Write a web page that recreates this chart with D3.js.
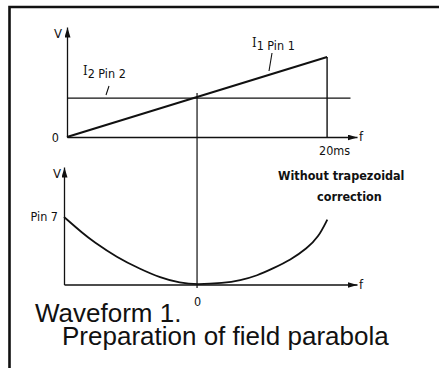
<!DOCTYPE html>
<html>
<head>
<meta charset="utf-8">
<script src="https://cdn.jsdelivr.net/npm/d3@7"></script>
<style>
  body { margin: 0; background: #fff; }
  .tech { font-family: "DejaVu Sans Condensed", "DejaVu Sans", sans-serif; font-stretch: condensed; fill: #111; }
  .title { font-family: "Liberation Sans", Arial, sans-serif; font-size: 26px; fill: #111; }
</style>
</head>
<body>
<script>
// values (time in ms, voltage in arbitrary units)
var rampT = [0, 20],
    rampV = [0, 2];
var i2T = [0, 21.8],
    i2V = [0.97, 0.97];
var parT = [-10, -8.55, -7.82, -6.02, -4.29, -2.78, -1.28, 0, 1.95, 3.23, 4.51, 5.71, 6.99, 8.27, 9.10, 9.77],
    parV = [1.0, 0.75, 0.64, 0.40, 0.23, 0.10, 0.02, 0, 0.02, 0.06, 0.13, 0.24, 0.36, 0.54, 0.70, 0.96];
var topTicks = [20], topTickLabels = ["20ms"];
var botTicks = [0], botTickLabels = ["0"];

var W = 439, H = 368;

// scales, the domains run to the arrow tips
var xTop = d3.scaleLinear().domain([0, 22.3]).range([67, 357]);
var yTop = d3.scaleLinear().domain([0, 2.75]).range([137, 27]);
var xBot = d3.scaleLinear().domain([-10, 12]).range([64, 357]);
var yBot = d3.scaleLinear().domain([0, 1.74]).range([284.5, 167]);

var svg = d3.select("body").append("svg")
    .attr("width", W)
    .attr("height", H);

// arrow head
svg.append("defs").append("marker")
    .attr("id", "arrow")
    .attr("viewBox", "0 -3 10 6")
    .attr("refX", 10).attr("refY", 0)
    .attr("markerWidth", 10).attr("markerHeight", 6)
    .attr("markerUnits", "userSpaceOnUse")
    .attr("orient", "auto")
    .append("path").attr("d", "M0,-3L10,0L0,3Z").attr("fill", "#111");

// frame (top and left edge only, the rest is cut off)
svg.append("path")
    .attr("d", "M9.5," + H + "V7H" + W)
    .attr("fill", "none").attr("stroke", "#111").attr("stroke-width", 2.6);

function styleAxis(g) {
    g.select(".domain").attr("stroke", "#111").attr("stroke-width", 1.3).attr("marker-end", "url(#arrow)");
    g.selectAll(".tick line").remove();
    g.selectAll("text").attr("class", "tech").style("font-size", "12.5px").attr("fill", "#111");
}

// top chart axes
svg.append("g")
    .attr("transform", "translate(0," + yTop(0) + ")")
    .call(d3.axisBottom(xTop).tickValues(topTicks).tickFormat(function (d, i) { return topTickLabels[i]; })
        .tickSizeOuter(0).tickSize(0).tickPadding(9))
    .call(styleAxis)
    .selectAll("text").attr("dx", 7);
svg.append("g")
    .attr("transform", "translate(" + xTop(0) + ",0)")
    .call(d3.axisLeft(yTop).tickValues([0]).tickFormat(d3.format("d"))
        .tickSizeOuter(0).tickSize(0).tickPadding(8))
    .call(styleAxis);

// bottom chart axes
svg.append("g")
    .attr("transform", "translate(0," + yBot(0) + ")")
    .call(d3.axisBottom(xBot).tickValues(botTicks).tickFormat(function (d, i) { return botTickLabels[i]; })
        .tickSizeOuter(0).tickSize(0).tickPadding(13))
    .call(styleAxis);
svg.append("g")
    .attr("transform", "translate(" + xBot(-10) + ",0)")
    .call(d3.axisLeft(yBot).tickValues([1]).tickFormat(function () { return "Pin 7"; })
        .tickSizeOuter(0).tickSize(0).tickPadding(6))
    .call(styleAxis);

// axis letters
svg.append("text").attr("class", "tech").style("font-size", "13px")
    .attr("x", xTop(0) - 5).attr("y", yTop(2.75) + 11).attr("text-anchor", "end").text("V");
svg.append("text").attr("class", "tech").style("font-size", "13px")
    .attr("x", xBot(-10) - 3).attr("y", yBot(1.74) + 11).attr("text-anchor", "end").text("V");
svg.append("text").attr("class", "tech").style("font-size", "13px")
    .attr("x", xTop(22.3) + 2).attr("y", yTop(0) + 4).text("f");
svg.append("text").attr("class", "tech").style("font-size", "13px")
    .attr("x", xBot(12) + 2).attr("y", yBot(0) + 4).text("f");

// dividing line at 10 ms, through both charts
svg.append("line")
    .attr("x1", xTop(10)).attr("x2", xTop(10))
    .attr("y1", yTop(1.1)).attr("y2", yBot(-0.05))
    .attr("stroke", "#111").attr("stroke-width", 1.2);

// I2 level
var line = d3.line();
svg.append("path")
    .datum(i2T.map(function (t, i) { return [xTop(t), yTop(i2V[i])]; }))
    .attr("d", line)
    .attr("fill", "none").attr("stroke", "#111").attr("stroke-width", 1.2);

// I1 ramp and its fly-back
svg.append("path")
    .datum(rampT.map(function (t, i) { return [xTop(t), yTop(rampV[i])]; }))
    .attr("d", line)
    .attr("fill", "none").attr("stroke", "#111").attr("stroke-width", 2);
svg.append("line")
    .attr("x1", xTop(20)).attr("x2", xTop(20))
    .attr("y1", yTop(2)).attr("y2", yTop(0))
    .attr("stroke", "#111").attr("stroke-width", 1.4);

// parabola
var curve = d3.line()
    .x(function (d) { return xBot(d[0]); })
    .y(function (d) { return yBot(d[1]); })
    .curve(d3.curveBasis);
svg.append("path")
    .datum(parT.map(function (t, i) { return [t, parV[i]]; }))
    .attr("d", curve)
    .attr("fill", "none").attr("stroke", "#111").attr("stroke-width", 1.8);

// labels
var l1 = svg.append("text").attr("class", "tech").style("font-size", "12.5px").attr("x", 252).attr("y", 50);
l1.append("tspan").style("font-family", "DejaVu Serif").style("font-size", "13px").attr("dy", -3).text("I");
l1.append("tspan").attr("dy", 3).text("1 Pin 1");
svg.append("line").attr("x1", 272).attr("y1", 53).attr("x2", 269).attr("y2", 71)
    .attr("stroke", "#111").attr("stroke-width", 1.1);

var l2 = svg.append("text").attr("class", "tech").style("font-size", "12.5px").attr("x", 83).attr("y", 78);
l2.append("tspan").style("font-family", "DejaVu Serif").style("font-size", "13px").attr("dy", -3).text("I");
l2.append("tspan").attr("dy", 3).text("2 Pin 2");
svg.append("line").attr("x1", 109).attr("y1", 86).attr("x2", 106).attr("y2", 95)
    .attr("stroke", "#111").attr("stroke-width", 1.1);

svg.append("text").attr("class", "tech").style("font-size", "12.5px").style("font-weight", "bold")
    .attr("x", 278).attr("y", 180).text("Without trapezoidal");
svg.append("text").attr("class", "tech").style("font-size", "12.5px").style("font-weight", "bold")
    .attr("x", 317).attr("y", 201).text("correction");

svg.append("text").attr("class", "title").attr("x", 35).attr("y", 322).text("Waveform 1.");
svg.append("text").attr("class", "title").attr("x", 62).attr("y", 345).text("Preparation of field parabola");
</script>
</body>
</html>
